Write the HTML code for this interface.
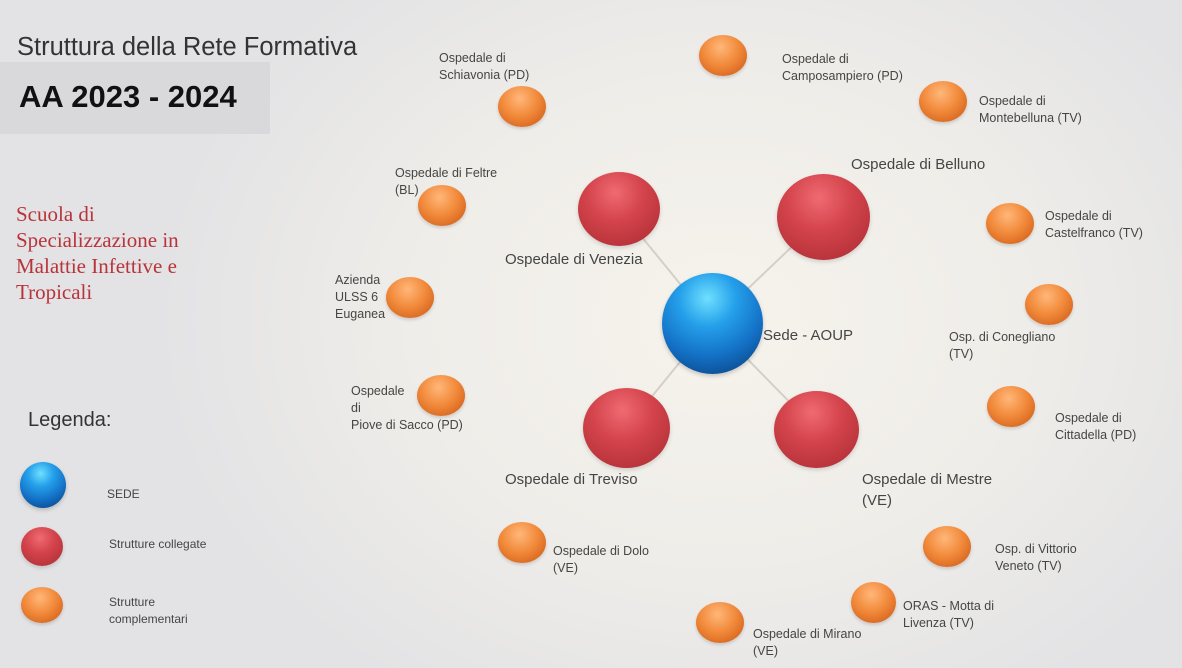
<!DOCTYPE html>
<html><head><meta charset="utf-8"><style>
body{margin:0}
#c{position:relative;width:1182px;height:668px;overflow:hidden;font-family:"Liberation Sans",sans-serif;color:#454545;
background:radial-gradient(ellipse 560px 440px at 720px 320px,#f6f3ec 0%,#efede9 55%,#e3e3e5 100%);}
.s{position:absolute;border-radius:50%}
.o{background:radial-gradient(circle at 45% 30%,#ffb77a 0%,#f28b3c 45%,#d5631c 85%,#c85a1a 100%);box-shadow:0 2px 3px rgba(0,0,0,.15)}
.r{background:radial-gradient(circle at 45% 28%,#f06a72 0%,#d4444c 40%,#b8333a 80%,#9c2a30 100%);box-shadow:0 2px 4px rgba(0,0,0,.15)}
.b{background:radial-gradient(circle at 45% 25%,#6fe0ff 0%,#25a0ea 30%,#1473c8 60%,#0c4d94 85%,#1a6fc4 100%);box-shadow:0 2px 4px rgba(0,0,0,.2)}
.t{position:absolute;font-size:12.5px;line-height:17px;white-space:nowrap}
.L{position:absolute;font-size:15px;line-height:21px;white-space:nowrap}
</style></head><body><div id="c">
<div style="position:absolute;left:0;top:62px;width:270px;height:72px;background:#d9d9db"></div>
<div style="position:absolute;left:17px;top:33px;font-size:25.5px;color:#333">Struttura della Rete Formativa</div>
<div style="position:absolute;left:19px;top:79px;font-size:31px;font-weight:bold;color:#111">AA 2023 - 2024</div>
<div style="position:absolute;left:16px;top:201px;font-family:'Liberation Serif',serif;font-size:21px;line-height:26px;color:#b8343a">Scuola di<br>Specializzazione in<br>Malattie Infettive e<br>Tropicali</div>
<div style="position:absolute;left:28px;top:409px;font-size:20px;color:#333">Legenda:</div>
<svg style="position:absolute;left:0;top:0" width="1182" height="668"><g stroke="#d4d0c8" stroke-width="2"><line x1="712" y1="323" x2="619" y2="209"/><line x1="712" y1="323" x2="823" y2="217"/><line x1="712" y1="323" x2="626" y2="428"/><line x1="712" y1="323" x2="816" y2="429"/></g></svg>
<div class="s b" style="left:662px;top:273px;width:101px;height:101px"></div>
<div class="s r" style="left:578px;top:172px;width:82px;height:74px"></div>
<div class="s r" style="left:777px;top:174px;width:93px;height:86px"></div>
<div class="s r" style="left:583px;top:388px;width:87px;height:80px"></div>
<div class="s r" style="left:774px;top:391px;width:85px;height:77px"></div>
<div class="s o" style="left:699px;top:35px;width:48px;height:41px"></div>
<div class="s o" style="left:498px;top:86px;width:48px;height:41px"></div>
<div class="s o" style="left:919px;top:81px;width:48px;height:41px"></div>
<div class="s o" style="left:418px;top:185px;width:48px;height:41px"></div>
<div class="s o" style="left:986px;top:203px;width:48px;height:41px"></div>
<div class="s o" style="left:386px;top:277px;width:48px;height:41px"></div>
<div class="s o" style="left:1025px;top:284px;width:48px;height:41px"></div>
<div class="s o" style="left:417px;top:375px;width:48px;height:41px"></div>
<div class="s o" style="left:987px;top:386px;width:48px;height:41px"></div>
<div class="s o" style="left:498px;top:522px;width:48px;height:41px"></div>
<div class="s o" style="left:923px;top:526px;width:48px;height:41px"></div>
<div class="s o" style="left:851px;top:582px;width:45px;height:41px"></div>
<div class="s o" style="left:696px;top:602px;width:48px;height:41px"></div>
<div class="s b" style="left:20px;top:462px;width:46px;height:46px"></div>
<div class="s r" style="left:21px;top:527px;width:42px;height:39px"></div>
<div class="s o" style="left:21px;top:587px;width:42px;height:36px"></div>
<div class="t" style="left:107px;top:486px;font-size:12px">SEDE</div>
<div class="t" style="left:109px;top:536px;font-size:12px">Strutture collegate</div>
<div class="t" style="left:109px;top:594px;font-size:12px">Strutture<br>complementari</div>
<div class="L" style="left:763px;top:325px">Sede - AOUP</div>
<div class="L" style="left:505px;top:249px">Ospedale di Venezia</div>
<div class="L" style="left:851px;top:154px">Ospedale di Belluno</div>
<div class="L" style="left:505px;top:469px">Ospedale di Treviso</div>
<div class="L" style="left:862px;top:469px">Ospedale di Mestre<br>(VE)</div>
<div class="t" style="left:439px;top:50px">Ospedale di<br>Schiavonia (PD)</div>
<div class="t" style="left:782px;top:51px">Ospedale di<br>Camposampiero (PD)</div>
<div class="t" style="left:979px;top:93px">Ospedale di<br>Montebelluna (TV)</div>
<div class="t" style="left:395px;top:165px">Ospedale di Feltre<br>(BL)</div>
<div class="t" style="left:1045px;top:208px">Ospedale di<br>Castelfranco (TV)</div>
<div class="t" style="left:335px;top:272px">Azienda<br>ULSS 6<br>Euganea</div>
<div class="t" style="left:949px;top:329px">Osp. di Conegliano<br>(TV)</div>
<div class="t" style="left:351px;top:383px">Ospedale<br>di<br>Piove di Sacco (PD)</div>
<div class="t" style="left:1055px;top:410px">Ospedale di<br>Cittadella (PD)</div>
<div class="t" style="left:553px;top:543px">Ospedale di Dolo<br>(VE)</div>
<div class="t" style="left:995px;top:541px">Osp. di Vittorio<br>Veneto (TV)</div>
<div class="t" style="left:903px;top:598px">ORAS - Motta di<br>Livenza (TV)</div>
<div class="t" style="left:753px;top:626px">Ospedale di Mirano<br>(VE)</div>
</div></body></html>
